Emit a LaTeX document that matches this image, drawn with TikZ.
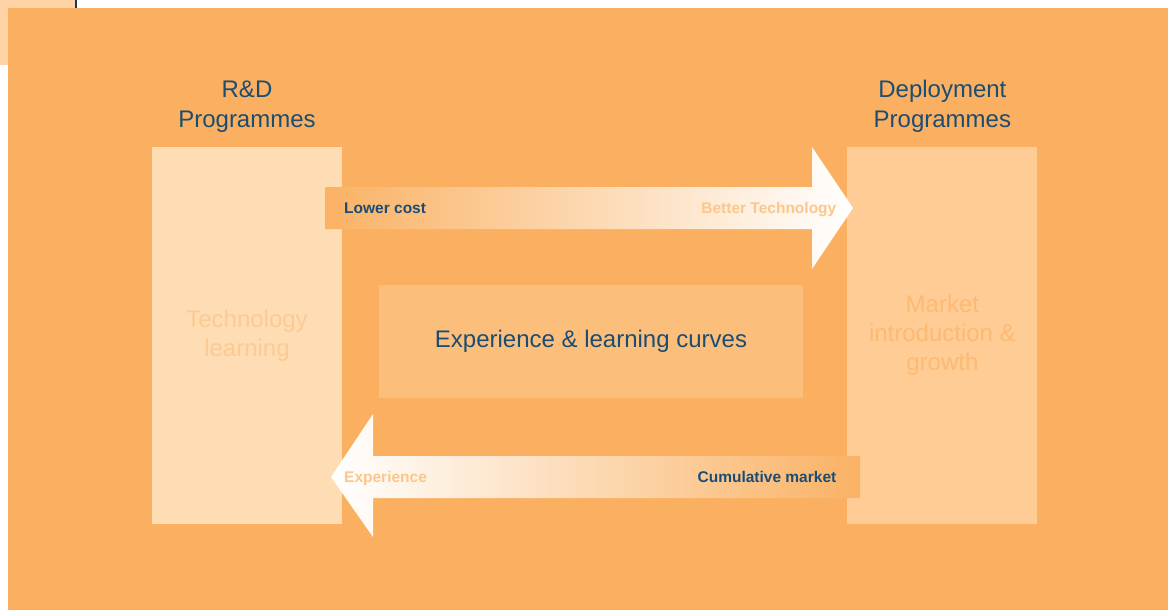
\documentclass[tikz,border=0pt]{standalone}
\usepackage{fontspec}
\setmainfont{Liberation Sans}
\usepackage{xcolor}
\usepackage{tikz}
\usetikzlibrary{positioning}
\definecolor{cBg}{HTML}{FBB061}
\definecolor{cPeach}{HTML}{FED4A7}
\definecolor{cLight}{HTML}{FEDCB4}
\definecolor{cMid}{HTML}{FECC94}
\definecolor{cCore}{HTML}{FCBE7B}
\definecolor{cBlue}{HTML}{1B4D74}
\definecolor{cNavy}{HTML}{1D3856}
\definecolor{cPale}{HTML}{FDCA92}
\definecolor{cDeep}{HTML}{FDBA72}
\definecolor{cTag}{HTML}{FDC68A}
\definecolor{cArrow}{HTML}{FAB265}

\begin{document}
\begin{tikzpicture}[x=1pt, y=-1pt,
        box/.style={inner sep=0pt, align=center, minimum width=190pt,
                    minimum height=377pt, font=\fontsize{24}{29}\selectfont},
        head/.style={inner sep=0pt, align=center, text=cBlue,
                    font=\fontsize{24}{30}\selectfont},
        tag/.style={inner sep=0pt, font=\fontsize{15.5}{18}\selectfont\bfseries},
    ]
        \useasboundingbox (0,0) rectangle (1168,610);
        \fill[cPeach] (0,0) rectangle (75,65);
        \fill[cBg] (8,8) rectangle (1168,610);
        \draw[cNavy, line width=1.6pt] (76.2,0) -- (76.2,8);

        \node[box, fill=cLight, text=cPale] (rd) at (247,335.5) {Technology\\learning};
        \node[box, fill=cMid, text=cDeep, right=505pt of rd] (dep) {Market\\introduction \&\\growth};
        \node[box, fill=cCore, text=cBlue, minimum width=424pt, minimum height=113pt] (core) at (591,341.5) {Experience \& learning curves};

        \node[head, above=14pt of rd] (rdh) {R\&D\\Programmes};
        \node[head, above=14pt of dep] (deph) {Deployment\\Programmes};

        % the two wide arrows between the programmes
        \shade[left color=cArrow, right color=white] (325,187) -- (812,187) -- (812,147) -- (853,208)
            -- (812,269) -- (812,229) -- (325,229) -- cycle;
        \shade[left color=white, right color=cArrow] (860,456) -- (373,456) -- (373,414) -- (331,477)
            -- (373,537) -- (373,498) -- (860,498) -- cycle;

        \node[tag, text=cBlue, anchor=base west] (lc) at (344,213) {Lower cost};
        \node[tag, text=cTag, anchor=base east] (bt) at (836.5,213) {Better Technology};
        \node[tag, text=cTag, anchor=base west] (ex) at (344,482) {Experience};
        \node[tag, text=cBlue, anchor=base east] (cm) at (836.5,482) {Cumulative market};
    \end{tikzpicture}
\end{document}
